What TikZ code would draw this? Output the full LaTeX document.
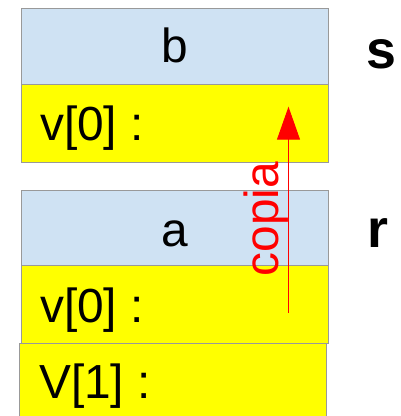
\documentclass[tikz,border=0pt]{standalone}
\usepackage{fontspec}
\setmainfont{Liberation Sans}
\usetikzlibrary{arrows.meta}

\definecolor{headblue}{HTML}{CFE2F3}
\definecolor{fieldyellow}{HTML}{FFFF00}
\definecolor{framegray}{HTML}{999999}
\definecolor{copyred}{HTML}{FF0000}

\tikzset{
  cell/.style={draw=framegray, line width=1bp, inner sep=0pt, outer sep=0pt},
  headcell/.style={cell, fill=headblue},
  fieldcell/.style={cell, fill=fieldyellow},
  celltext/.style={inner sep=0pt, font=\fontsize{48}{48}\selectfont},
  structname/.style={inner sep=0pt, font=\fontsize{54}{54}\selectfont\bfseries},
  copyarrow/.style={draw=copyred, line width=1bp, -{Triangle[length=33bp,width=23bp]}},
}

\begin{document}
\begin{tikzpicture}[x=1bp, y=-1bp]
  \useasboundingbox (0,0) rectangle (401,416);

  % struct s: variable b
  \draw[headcell]  (21.5,8.5) rectangle (328.5,84);
  \draw[fieldcell] (21.5,84) rectangle (328.5,162.5);
  \node[celltext, anchor=base] (bname) at (175,62) {b};
  \node[celltext, anchor=base west] (bv0) at (40,140) {v[0] :};
  \node[structname, anchor=base west] (sname) at (366.5,68) {s};

  % struct r: variable a
  \draw[headcell]  (21.5,190) rectangle (328.5,265);
  \draw[fieldcell] (21.5,265) rectangle (328.5,343);
  \draw[fieldcell] (19.5,343) rectangle (326.5,430);
  \node[celltext, anchor=base] (aname) at (175,246.5) {a};
  \node[celltext, anchor=base west] (av0) at (40,322) {v[0] :};
  \node[celltext, anchor=base west] (av1) at (39,398) {V[1] :};
  \node[structname, anchor=base west] (rname) at (367.5,247) {r};

  % copy from a.v[0] up to b.v[0]
  \coordinate (copyfrom) at (288.5,313);
  \coordinate (copyto) at (288.5,106.7);
  \draw[copyarrow] (copyfrom) -- (copyto);
  \node[celltext, text=copyred, rotate=90, anchor=base] (copylabel) at (278,219) {copia};
\end{tikzpicture}
\end{document}
